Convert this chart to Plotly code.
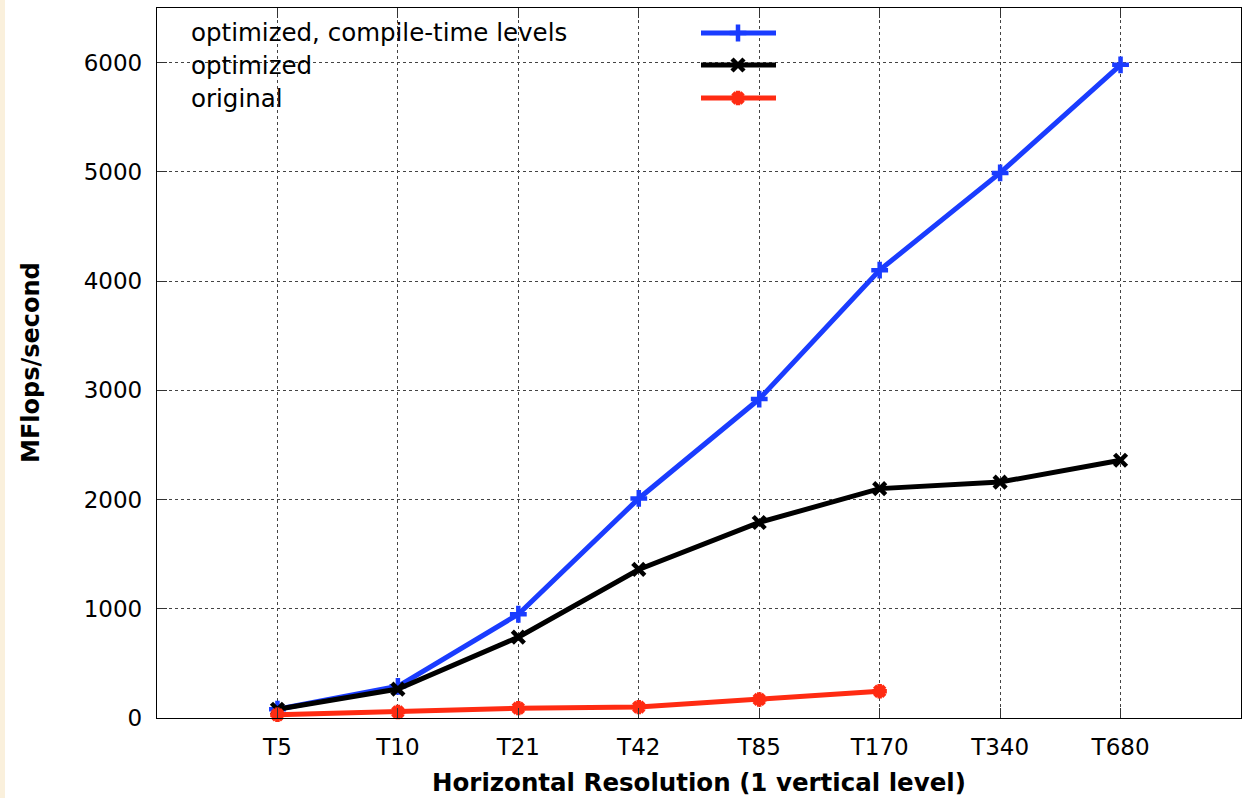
import plotly.graph_objects as go

categories = ["T5", "T10", "T21", "T42", "T85", "T170", "T340", "T680"]
opt_compile = [80, 290, 950, 2010, 2920, 4100, 4990, 5980]
optimized = [80, 265, 740, 1360, 1790, 2100, 2160, 2360]
original = [30, 55, 90, 100, 170, 245]

series_names = ["optimized, compile-time levels", "optimized", "original"]
colors = ["#1A3CFF", "#000000", "#FF2B12"]
symbols = ["cross-thin", "x-thin", "asterisk-open"]

FONT = "DejaVu Sans"

fig = go.Figure()
data = [(categories, opt_compile), (categories, optimized), (categories[:len(original)], original)]
for (xs, ys), name, c, s in zip(data, series_names, colors, symbols):
    fig.add_trace(go.Scatter(
        x=xs, y=ys, mode="lines+markers", name=name, showlegend=False,
        line=dict(color=c, width=5),
        marker=dict(symbol=s, size=12, color=c, line=dict(color=c, width=4.5)),
        cliponaxis=False,
    ))

# custom gnuplot-style key (text left, sample right)
W, H = 1084.0, 710.0
def px(x):
    return (x - 157) / W
def py(y):
    return (718 - y) / H

row_y = [33, 65, 98]
shapes = [
    # opaque key box hiding grid
    dict(type="rect", xref="paper", yref="paper", x0=0, x1=px(786), y0=py(113), y1=1,
         fillcolor="white", line=dict(width=0), layer="between"),
    # cream strip on far left
    dict(type="rect", xref="paper", yref="paper", x0=px(0), x1=px(5), y0=py(798), y1=py(0),
         fillcolor="#FAF0DC", line=dict(width=0), layer="below"),
]
annotations = []
for name, c, ry in zip(series_names, colors, row_y):
    annotations.append(dict(text=name, xref="paper", yref="paper", x=px(189), y=py(ry),
                            xanchor="left", yanchor="middle", showarrow=False,
                            font=dict(family=FONT, size=24.5, color="black")))
    shapes.append(dict(type="line", xref="paper", yref="paper", x0=px(701), x1=px(776),
                       y0=py(ry), y1=py(ry), line=dict(color=c, width=5), layer="above"))

# key markers on an overlay axis in paper-like units
for c, s, ry in zip(colors, symbols, row_y):
    fig.add_trace(go.Scatter(
        x=[px(738)], y=[py(ry)], xaxis="x2", yaxis="y2", mode="markers", showlegend=False,
        marker=dict(symbol=s, size=12, color=c, line=dict(color=c, width=4.5)),
        hoverinfo="skip", cliponaxis=False,
    ))

annotations.append(dict(text="<b>Horizontal Resolution (1 vertical level)</b>", xref="paper", yref="paper",
                        x=0.5, y=py(782), xanchor="center", yanchor="middle", showarrow=False,
                        font=dict(family=FONT, size=24.5, color="black")))
annotations.append(dict(text="<b>MFlops/second</b>", xref="paper", yref="paper",
                        x=px(31), y=py(363), xanchor="center", yanchor="middle", showarrow=False,
                        textangle=-90, font=dict(family=FONT, size=24, color="black")))

fig.update_layout(
    width=1247, height=798,
    margin=dict(l=157, r=6, t=8, b=80),
    paper_bgcolor="white", plot_bgcolor="white",
    showlegend=False,
    font=dict(family=FONT, size=23, color="black"),
    xaxis=dict(
        type="category", categoryorder="array", categoryarray=categories,
        range=[-1, 8], tickvals=categories, ticktext=categories,
        showgrid=True, gridcolor="#444", griddash="dot", gridwidth=1,
        showline=True, linecolor="black", linewidth=1.3, mirror="ticks",
        ticks="inside", ticklen=10, tickcolor="#333", tickwidth=1,
        ticklabelstandoff=8, zeroline=False,
        tickfont=dict(family=FONT, size=23, color="black"),
    ),
    yaxis=dict(
        range=[0, 6500], tickvals=[0, 1000, 2000, 3000, 4000, 5000, 6000],
        showgrid=True, gridcolor="#444", griddash="dot", gridwidth=1,
        showline=True, linecolor="black", linewidth=1.3, mirror="ticks",
        ticks="inside", ticklen=10, tickcolor="#333", tickwidth=1,
        ticklabelstandoff=9, zeroline=False,
        tickfont=dict(family=FONT, size=23, color="black"),
    ),
    xaxis2=dict(overlaying="x", range=[0, 1], visible=False, showgrid=False),
    yaxis2=dict(overlaying="y", range=[0, 1], visible=False, showgrid=False),
    shapes=shapes,
    annotations=annotations,
)

fig.write_html("out.html")
